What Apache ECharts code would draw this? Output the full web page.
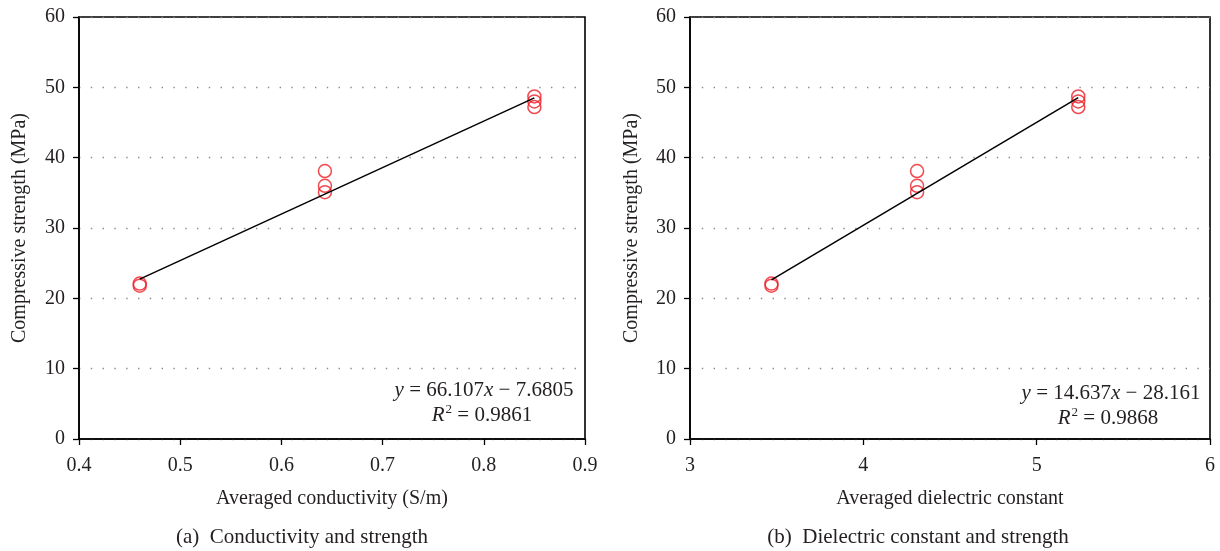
<!DOCTYPE html>
<html><head><meta charset="utf-8">
<script src="https://cdn.jsdelivr.net/npm/echarts@6/dist/echarts.min.js"></script>
<style>html,body{margin:0;padding:0;background:#fff}#c{width:1220px;height:551px}</style>
</head><body><div id="c"></div>
<script>
// Panel (a): conductivity vs strength
const condX = [0.46, 0.46, 0.643, 0.643, 0.643, 0.85, 0.85, 0.85];
const condY = [22.1, 21.8, 38.1, 36.0, 35.1, 48.7, 48.0, 47.2];
const condFitX = [0.46, 0.85];
const condFitY = [22.73, 48.51];
// Panel (b): dielectric constant vs strength
const dielX = [3.47, 3.47, 4.31, 4.31, 4.31, 5.24, 5.24, 5.24];
const dielY = [22.1, 21.8, 38.1, 36.0, 35.1, 48.7, 48.0, 47.2];
const dielFitX = [3.47, 5.24];
const dielFitY = [22.63, 48.54];
const yTicks = [0, 10, 20, 30, 40, 50, 60];
const xTicksA = [0.4, 0.5, 0.6, 0.7, 0.8, 0.9];
const xTicksB = [3, 4, 5, 6];

const FONT = '"Liberation Serif", "DejaVu Serif", serif';
const TXT = '#231f20';
const chart = echarts.init(document.getElementById('c'));
const zip = (a, b) => a.map((v, i) => [v, b[i]]);

function xAxis(idx, min, max, interval, name) {
  return {
    type: 'value', gridIndex: idx, min: min, max: max, interval: interval,
    name: name, nameLocation: 'middle', nameGap: 50,
    nameTextStyle: {fontFamily: FONT, fontSize: 20, color: TXT},
    axisLine: {onZero: false, lineStyle: {color: '#000', width: 1.6}},
    axisTick: {show: true, inside: false, length: 6, lineStyle: {color: '#000', width: 1.3}},
    axisLabel: {fontFamily: FONT, fontSize: 20, color: TXT, margin: 17,
      formatter: v => (interval < 1 ? v.toFixed(1) : String(v))},
    splitLine: {show: false}
  };
}
function yAxis(idx, gap) {
  return {
    type: 'value', gridIndex: idx, min: 0, max: 60, interval: 10,
    name: 'Compressive strength (MPa)', nameLocation: 'middle', nameGap: gap,
    nameTextStyle: {fontFamily: FONT, fontSize: 20, color: TXT},
    axisLine: {onZero: false, lineStyle: {color: '#000', width: 1.6}},
    axisTick: {show: true, inside: false, length: 6, lineStyle: {color: '#000', width: 1.3}},
    axisLabel: {fontFamily: FONT, fontSize: 20, color: TXT, margin: 14},
    splitLine: {show: true, lineStyle: {color: '#8a8a8a', width: 1.4, type: [1.4, 10.4]}}
  };
}
function scatter(idx, xs, ys) {
  return {type: 'scatter', xAxisIndex: idx, yAxisIndex: idx, data: zip(xs, ys),
    symbol: 'circle', symbolSize: 13,
    itemStyle: {color: 'rgba(255,255,255,0)', borderColor: '#ec1c24', borderWidth: 1.5},
    z: 3, silent: true};
}
function fit(idx, xs, ys) {
  return {type: 'line', xAxisIndex: idx, yAxisIndex: idx, data: zip(xs, ys),
    showSymbol: false, lineStyle: {color: '#000', width: 1.5}, z: 4, silent: true};
}
function eqText(cx, cy, text) {
  return {
    type: 'text', x: cx, y: cy, z: 10,
    style: {
      text: text, fontFamily: FONT, fontSize: 21, fill: TXT,
      align: 'center', verticalAlign: 'middle',
      rich: {
        i: {fontFamily: FONT, fontStyle: 'italic', fontSize: 21, fill: TXT},
        n: {fontFamily: FONT, fontSize: 21, fill: TXT},
        s: {fontFamily: FONT, fontSize: 13, fill: TXT, verticalAlign: 'top', padding: [0, 0, 10, 1]}
      }
    }
  };
}

chart.setOption({
  animation: false,
  backgroundColor: '#fff',
  grid: [
    {left: 79, right: 635, top: 17, bottom: 112, show: true, borderColor: '#000', borderWidth: 1.6, backgroundColor: 'transparent'},
    {left: 690, right: 10, top: 17, bottom: 112, show: true, borderColor: '#000', borderWidth: 1.6, backgroundColor: 'transparent'}
  ],
  xAxis: [
    xAxis(0, 0.4, 0.9, 0.1, 'Averaged conductivity (S/m)'),
    xAxis(1, 3, 6, 1, 'Averaged dielectric constant')
  ],
  yAxis: [yAxis(0, 49), yAxis(1, 48)],
  series: [
    scatter(0, condX, condY), fit(0, condFitX, condFitY),
    scatter(1, dielX, dielY), fit(1, dielFitX, dielFitY)
  ],
  graphic: [
    eqText(484, 390, '{i|y}{n| = 66.107}{i|x}{n| − 7.6805}'),
    eqText(482, 415, '{i|R}{s|2}{n| = 0.9861}'),
    eqText(1111, 393, '{i|y}{n| = 14.637}{i|x}{n| − 28.161}'),
    eqText(1108, 418, '{i|R}{s|2}{n| = 0.9868}'),
    {type: 'text', x: 302, y: 537, style: {text: '(a)  Conductivity and strength', fontFamily: FONT, fontSize: 21, fill: TXT, align: 'center', verticalAlign: 'middle'}},
    {type: 'text', x: 918, y: 537, style: {text: '(b)  Dielectric constant and strength', fontFamily: FONT, fontSize: 21, fill: TXT, align: 'center', verticalAlign: 'middle'}}
  ]
});
</script></body></html>
